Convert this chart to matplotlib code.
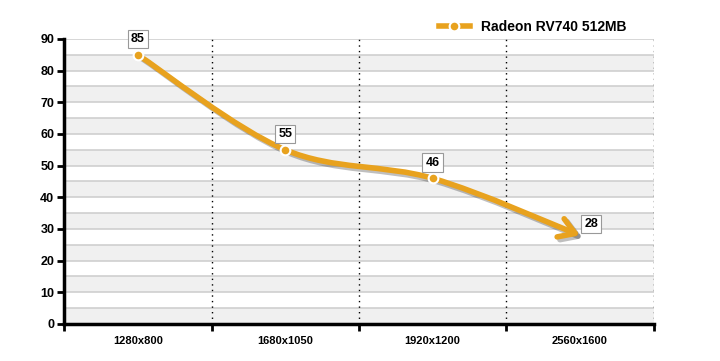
import matplotlib
matplotlib.use('Agg')
import matplotlib.pyplot as plt
import matplotlib.patheffects as pe
from matplotlib.path import Path
from matplotlib.patches import FancyArrowPatch
from matplotlib.lines import Line2D

resolutions = ['1280x800', '1680x1050', '1920x1200', '2560x1600']
fps = [85, 55, 46, 28]
series_name = 'Radeon RV740 512MB'

line_color = '#E8A21E'

plt.rcParams['font.family'] = ['Liberation Sans', 'DejaVu Sans']

fig = plt.figure(figsize=(7.2, 3.61), dpi=100)
ax = fig.add_axes([0.089, 0.1025, 0.819, 0.7895])

ax.set_xlim(-0.5, 3.5)
ax.set_ylim(0, 90)

# alternating bands and horizontal grid
for lo in range(0, 90, 10):
    ax.axhspan(lo, lo + 5, color='#F0F0F0', zorder=0, lw=0)
for y in range(5, 91, 5):
    ax.axhline(y, color='#CFCFCF', lw=1.2, zorder=1)
for b in [0.5, 1.5, 2.5, 3.5]:
    ax.axvline(b, color='black', lw=1, ls=(0, (1, 3)), zorder=1)

# smooth curve through points (Catmull-Rom -> Bezier)
xs = list(range(len(fps)))
pts = list(zip(xs, fps))
verts = [pts[0]]
codes = [Path.MOVETO]
for i in range(len(pts) - 1):
    p0 = pts[i - 1] if i > 0 else pts[i]
    p1 = pts[i]
    p2 = pts[i + 1]
    p3 = pts[i + 2] if i + 2 < len(pts) else pts[i + 1]
    c1 = (p1[0] + (p2[0] - p0[0]) / 6, p1[1] + (p2[1] - p0[1]) / 6)
    c2 = (p2[0] - (p3[0] - p1[0]) / 6, p2[1] - (p3[1] - p1[1]) / 6)
    verts += [c1, c2, p2]
    codes += [Path.CURVE4] * 3
curve = Path(verts, codes)

arrow = FancyArrowPatch(path=curve, arrowstyle='->,head_length=0.8,head_width=0.5',
                        color=line_color, lw=4, transform=ax.transData, zorder=4,
                        mutation_scale=14, capstyle='round', joinstyle='round')
arrow.set_path_effects([pe.SimpleLineShadow(offset=(2, -2), alpha=0.25), pe.Normal()])
ax.add_patch(arrow)

ax.plot(xs[:-1], fps[:-1], 'o', ms=7, mfc=line_color, mec='white', mew=1.5, zorder=5)

box = dict(boxstyle='square,pad=0.25', fc='white', ec='#999999', lw=0.8)
for i, v in enumerate(fps):
    if i < len(fps) - 1:
        ax.annotate(str(v), (xs[i], v), xytext=(0, 7), textcoords='offset points',
                    ha='center', va='bottom', fontsize=9, fontweight='bold', bbox=box, zorder=6)
    else:
        ax.annotate(str(v), (xs[i], v), xytext=(3, 4), textcoords='offset points',
                    ha='left', va='bottom', fontsize=9, fontweight='bold', bbox=box, zorder=6)

# axes styling
ax.set_yticks(range(0, 91, 10))
ax.set_yticklabels([str(v) for v in range(0, 91, 10)], fontsize=9, fontweight='bold')
ax.set_xticks(xs)
ax.set_xticklabels(resolutions, fontsize=8, fontweight='bold')
ax.set_xticks([-0.5, 0.5, 1.5, 2.5, 3.5], minor=True)
ax.tick_params(axis='x', which='major', length=0, pad=9)
ax.tick_params(axis='x', which='minor', length=5, width=2, direction='out', color='black')
ax.tick_params(axis='y', length=5, width=2, direction='out', pad=2)
for s in ['top', 'right']:
    ax.spines[s].set_visible(False)
ax.spines['left'].set_linewidth(2.5)
ax.spines['bottom'].set_linewidth(2.5)

handle = Line2D([], [], color=line_color, lw=4, marker='o', ms=7, mfc=line_color, mec='white', mew=1.5)
leg = fig.legend([handle], [series_name], loc='center', bbox_to_anchor=(0.74, 0.925),
                 frameon=False, prop={'weight': 'bold', 'size': 10}, handlelength=2.2)

fig.savefig('out.png', dpi=100)
